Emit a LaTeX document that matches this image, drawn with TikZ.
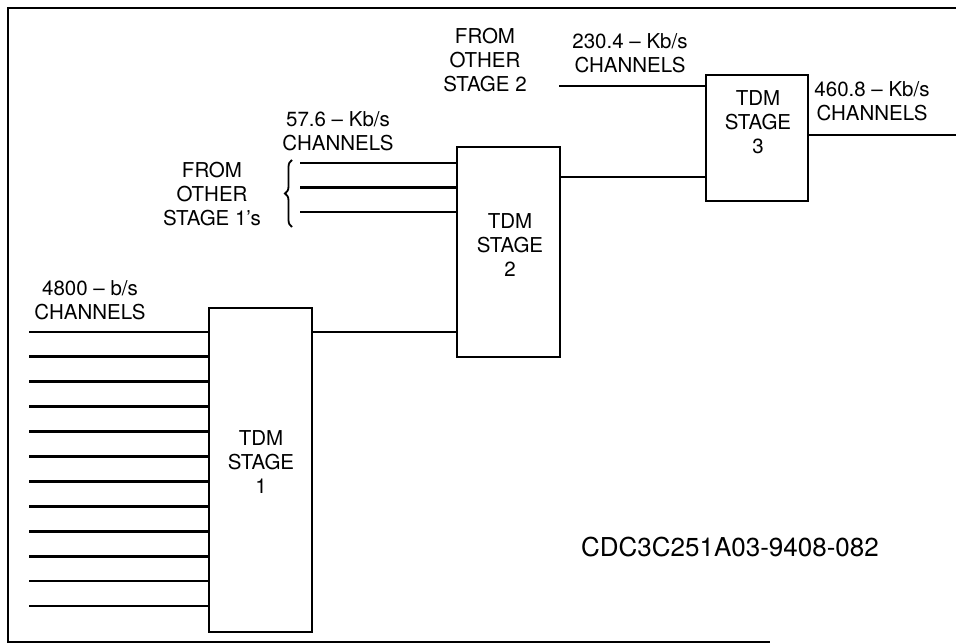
\documentclass[tikz,border=0pt]{standalone}
\usepackage{fontspec}
\setmainfont{TeX Gyre Heros}
\usepackage{tikz}
\usetikzlibrary{positioning,calc,decorations.pathreplacing}

\tikzset{
  stagebox/.style={rectangle,draw,line width=2.6pt,inner sep=0pt},
  lbl/.style={align=center,font=\fontsize{20.5}{24}\selectfont,inner sep=0pt},
  chan/.style={line width=2.8pt}
}

\begin{document}
\begin{tikzpicture}[x=1pt,y=-1pt]
\useasboundingbox (0,0) rectangle (956,644);
% frame
\draw[line width=2pt] (956,8) -- (8,8) -- (8,642) -- (770,642);

% Stage 1
\node[stagebox,minimum width=103pt,minimum height=324pt] (s1) at (260.5,470) {};
\node[lbl] (s1txt) at (261,462) {TDM\\STAGE\\1};
\node[lbl] (l4800) at (90,300) {4800 – b/s\\CHANNELS};
\foreach \i in {0,...,11} {
  \coordinate (in\i) at (29,{332+24.9*\i});
  \draw[chan] (in\i) -- (in\i -| s1.west);
}

% Stage 2
\node[stagebox,minimum width=103pt,minimum height=210pt] (s2) at (508.5,252) {};
\node[lbl] (s2txt) at (510,245) {TDM\\STAGE\\2};
\node[lbl] (l576) at (338,131) {57.6 – Kb/s\\CHANNELS};
\node[lbl] (from1) at (212,194) {FROM\\OTHER\\STAGE 1{\char"27}s};
\foreach \y [count=\k] in {163,187.5,212} {
  \coordinate (o\k) at (300,\y);
  \draw[chan] (o\k) -- (o\k -| s2.west);
}
\draw[line width=1.8pt,decorate,decoration={brace,amplitude=7pt}] (292,227) -- (292,160);
\draw[chan] (s1.east |- in0) -- (s2.west |- in0);

% Stage 3
\node[stagebox,minimum width=102pt,minimum height=126pt] (s3) at (757,138) {};
\node[lbl] (s3txt) at (758,122) {TDM\\STAGE\\3};
\node[lbl] (from2) at (485,60) {FROM\\OTHER\\STAGE 2};
\node[lbl] (l2304) at (630,53) {230.4 – Kb/s\\CHANNELS};
\node[lbl] (l4608) at (872,101) {460.8 – Kb/s\\CHANNELS};
\coordinate (o4) at (559,86);
\coordinate (out) at (956,135);
\draw[chan] (o4) -- (o4 -| s3.west);
\draw[chan] (s2.east |- 0,177) -- (s3.west |- 0,177);
\draw[chan] (s3.east |- out) -- (out);

\node[lbl,font=\fontsize{26}{30}\selectfont] (ref) at (730,547) {CDC3C251A03-9408-082};
\end{tikzpicture}
\end{document}
